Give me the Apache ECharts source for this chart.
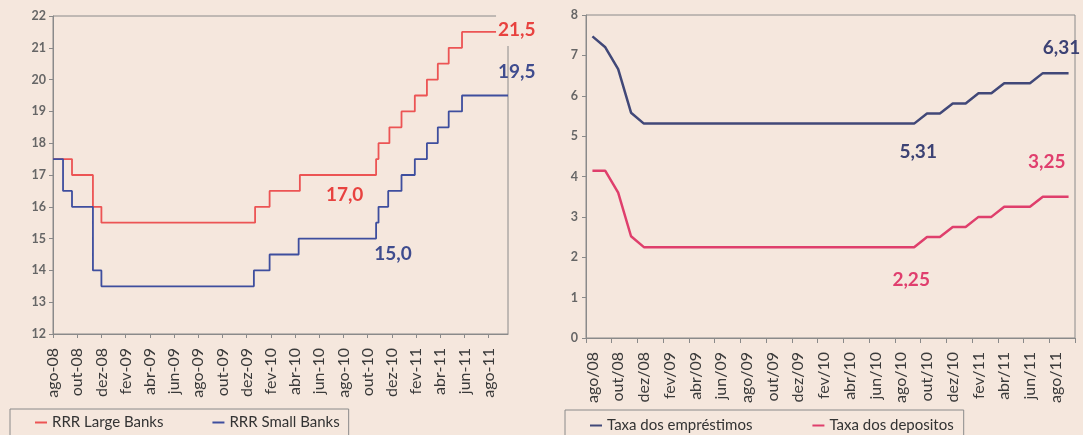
<!DOCTYPE html>
<html>
<head>
<meta charset="utf-8">
<script src="https://cdn.jsdelivr.net/npm/echarts@6/dist/echarts.min.js"></script>
<style>
  html, body { margin: 0; padding: 0; background: #f5e7dd; }
  #chart { width: 1083px; height: 435px; }
</style>
</head>
<body>
<div id="chart"></div>
<script>
// left chart: reserve requirement ratio, x = months since ago-08
const leftTickLabels = ['ago-08', 'out-08', 'dez-08', 'fev-09', 'abr-09', 'jun-09', 'ago-09', 'out-09', 'dez-09',
    'fev-10', 'abr-10', 'jun-10', 'ago-10', 'out-10', 'dez-10', 'fev-11', 'abr-11', 'jun-11', 'ago-11'];
const largeAt = [0, 1.57, 3.3, 4.0, 16.7, 17.9, 20.4, 26.7, 26.9, 27.8, 28.8, 29.9, 30.9, 31.8, 32.7, 33.8, 37.6];
const largeVal = [17.5, 17, 16, 15.5, 16, 16.5, 17, 17.5, 18, 18.5, 19, 19.5, 20, 20.5, 21, 21.5, 21.5];
const smallAt = [0, 0.83, 1.57, 3.3, 4.0, 16.6, 17.9, 20.3, 26.7, 26.9, 27.7, 28.8, 29.9, 30.9, 31.8, 32.7, 33.8, 37.6];
const smallVal = [17.5, 16.5, 16, 14, 13.5, 14, 14.5, 15, 15.5, 16, 16.5, 17, 17.5, 18, 18.5, 19, 19.5, 19.5];

// right chart: monthly interest rates
const rightMonths = ['ago/08', 'set/08', 'out/08', 'nov/08', 'dez/08',
    'jan/09', 'fev/09', 'mar/09', 'abr/09', 'mai/09', 'jun/09', 'jul/09', 'ago/09', 'set/09', 'out/09', 'nov/09', 'dez/09',
    'jan/10', 'fev/10', 'mar/10', 'abr/10', 'mai/10', 'jun/10', 'jul/10', 'ago/10', 'set/10', 'out/10', 'nov/10', 'dez/10',
    'jan/11', 'fev/11', 'mar/11', 'abr/11', 'mai/11', 'jun/11', 'jul/11', 'ago/11', 'set/11'];
const lendingRate = [7.47, 7.20, 6.66, 5.58, 5.31,
    5.31, 5.31, 5.31, 5.31, 5.31, 5.31, 5.31, 5.31, 5.31, 5.31, 5.31, 5.31,
    5.31, 5.31, 5.31, 5.31, 5.31, 5.31, 5.31, 5.31, 5.31, 5.56, 5.56, 5.81,
    5.81, 6.06, 6.06, 6.31, 6.31, 6.31, 6.56, 6.56, 6.56];
const depositRate = [4.14, 4.14, 3.60, 2.52, 2.25,
    2.25, 2.25, 2.25, 2.25, 2.25, 2.25, 2.25, 2.25, 2.25, 2.25, 2.25, 2.25,
    2.25, 2.25, 2.25, 2.25, 2.25, 2.25, 2.25, 2.25, 2.25, 2.50, 2.50, 2.75,
    2.75, 3.00, 3.00, 3.25, 3.25, 3.25, 3.50, 3.50, 3.50];

const FONT = 'Lato';
const RED_L = '#ec5454', BLUE_L = '#3e4e9e';
const NAVY_R = '#414878', PINK_R = '#df3f6c';

const pairs = (xs, ys) => xs.map((x, i) => [x, ys[i]]);

function note(name, coord, color, offset, extra) {
    return {
        name: name,
        coord: coord,
        label: Object.assign({
            show: true, formatter: '{b}', color: color, fontFamily: FONT,
            fontSize: 19, fontWeight: 'bold', offset: offset || [0, 0]
        }, extra || {})
    };
}

const chart = echarts.init(document.getElementById('chart'), null, { renderer: 'canvas' });

const axisLineStyle = { lineStyle: { color: '#8a8a8a', width: 1 } };
const yLabel = { color: '#666', fontFamily: FONT, fontSize: 12.5, fontWeight: 'bold' };
const xLabel = { color: '#3a3a3a', fontFamily: FONT, fontSize: 16, rotate: 90 };
const legendText = { color: '#333', fontFamily: FONT, fontSize: 15 };

chart.setOption({
    backgroundColor: '#f5e7dd',
    animation: false,
    grid: [
        { left: 53, top: 16, width: 455, height: 318, show: true, borderColor: '#8a8a8a', borderWidth: 1, backgroundColor: 'transparent' },
        { left: 586, top: 15, width: 489, height: 323, show: true, borderColor: '#8a8a8a', borderWidth: 1, backgroundColor: 'transparent' }
    ],
    legend: [
        {
            data: ['RRR Large Banks', 'RRR Small Banks'],
            left: 10, top: 409, orient: 'horizontal',
            padding: [6, 9, 12, 25], itemGap: 49,
            itemWidth: 12, itemHeight: 2, icon: 'rect',
            borderColor: '#8a8a8a', borderWidth: 1,
            textStyle: legendText
        },
        {
            data: ['Taxa dos empréstimos', 'Taxa dos depositos'],
            left: 565, top: 410, orient: 'horizontal',
            padding: [8, 10, 12, 25], itemGap: 60,
            itemWidth: 12, itemHeight: 2, icon: 'rect',
            borderColor: '#8a8a8a', borderWidth: 1,
            textStyle: legendText
        }
    ],
    xAxis: [
        {
            gridIndex: 0, type: 'value', min: 0, max: 37.6, interval: 2,
            axisLine: axisLineStyle, splitLine: { show: false },
            axisTick: { show: true, inside: false, length: 4, lineStyle: { color: '#8a8a8a' } },
            axisLabel: Object.assign({}, xLabel, {
                margin: 14, showMaxLabel: false,
                formatter: v => (Number.isInteger(v) && v % 2 === 0 ? (leftTickLabels[v / 2] || '') : '')
            })
        },
        {
            gridIndex: 1, type: 'category', data: rightMonths, boundaryGap: true,
            axisLine: axisLineStyle, splitLine: { show: false },
            axisTick: { show: true, interval: 1, length: 5, lineStyle: { color: '#8a8a8a' } },
            axisLabel: Object.assign({}, xLabel, { interval: 1, margin: 14 })
        }
    ],
    yAxis: [
        {
            gridIndex: 0, type: 'value', min: 12, max: 22, interval: 1,
            axisLine: { show: true, lineStyle: { color: '#8a8a8a' } }, splitLine: { show: false },
            axisTick: { show: true, length: 4, lineStyle: { color: '#8a8a8a' } },
            axisLabel: Object.assign({}, yLabel, { margin: 7 })
        },
        {
            gridIndex: 1, type: 'value', min: 0, max: 8, interval: 1,
            axisLine: { show: true, lineStyle: { color: '#8a8a8a' } }, splitLine: { show: false },
            axisTick: { show: true, length: 4, lineStyle: { color: '#8a8a8a' } },
            axisLabel: Object.assign({}, yLabel, { margin: 8 })
        }
    ],
    series: [
        {
            name: 'RRR Large Banks', type: 'line', xAxisIndex: 0, yAxisIndex: 0,
            data: pairs(largeAt, largeVal), step: 'end', showSymbol: false,
            itemStyle: { color: RED_L }, lineStyle: { color: RED_L, width: 1.8 },
            markPoint: {
                symbol: 'circle', symbolSize: 0, silent: true,
                data: [
                    note('21,5', [37.5, 21.56], '#e8423f', [10, 0], { backgroundColor: '#f5e7dd', padding: [7, 2, 6, 2] }),
                    note('17,0', [24.1, 16.37], '#e8423f')
                ]
            }
        },
        {
            name: 'RRR Small Banks', type: 'line', xAxisIndex: 0, yAxisIndex: 0,
            data: pairs(smallAt, smallVal), step: 'end', showSymbol: false,
            itemStyle: { color: BLUE_L }, lineStyle: { color: BLUE_L, width: 1.8 },
            markPoint: {
                symbol: 'circle', symbolSize: 0, silent: true,
                data: [
                    note('19,5', [37.5, 20.24], '#3f4c8e', [10, 0]),
                    note('15,0', [28.1, 14.52], '#3f4c8e')
                ]
            }
        },
        {
            name: 'Taxa dos empréstimos', type: 'line', xAxisIndex: 1, yAxisIndex: 1,
            data: lendingRate, showSymbol: false,
            itemStyle: { color: NAVY_R }, lineStyle: { color: NAVY_R, width: 2.5 },
            markPoint: {
                symbol: 'circle', symbolSize: 0, silent: true,
                data: [
                    note('6,31', [37, 7.18], '#3c4274', [-7, 0]),
                    note('5,31', [25, 4.6], '#3c4274', [4, 0])
                ]
            }
        },
        {
            name: 'Taxa dos depositos', type: 'line', xAxisIndex: 1, yAxisIndex: 1,
            data: depositRate, showSymbol: false,
            itemStyle: { color: PINK_R }, lineStyle: { color: PINK_R, width: 2.5 },
            markPoint: {
                symbol: 'circle', symbolSize: 0, silent: true,
                data: [
                    note('3,25', [35, 4.36], '#e03f6e', [4, 0]),
                    note('2,25', [25, 1.44], '#e03f6e', [-3, 0])
                ]
            }
        }
    ]
});
</script>
</body>
</html>
